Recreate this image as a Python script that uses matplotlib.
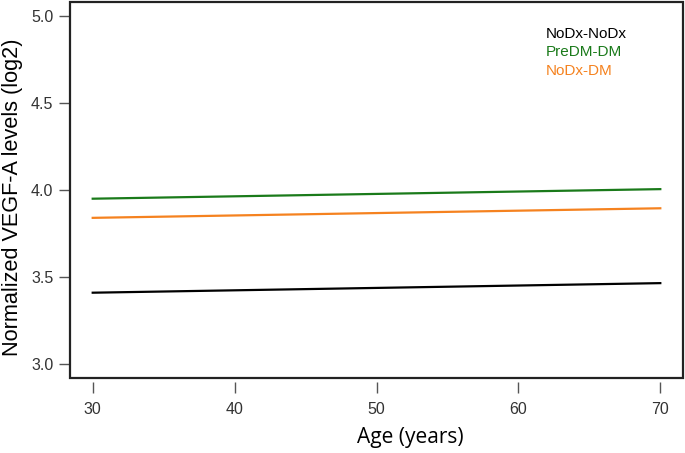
import matplotlib
matplotlib.use("Agg")
import matplotlib.pyplot as plt
from matplotlib.patches import Rectangle

ages = [30, 70]
nodx_nodx = [3.41, 3.465]
predm_dm = [3.95, 4.005]
nodx_dm = [3.84, 3.895]
series_names = ["NoDx-NoDx", "PreDM-DM", "NoDx-DM"]
series_colors = ["#000000", "#1a7a1a", "#f5821f"]
x_ticks = [30, 40, 50, 60, 70]
y_ticks = [3.0, 3.5, 4.0, 4.5, 5.0]

fig = plt.figure(figsize=(6.85, 4.53), dpi=100)
ax = fig.add_axes([70/685, 1 - 378/453, 613/685, 376/453])
ax.set_xlim(28.4, 71.6)
ax.set_ylim(2.92, 5.08)

for vals, c in zip([nodx_nodx, predm_dm, nodx_dm], series_colors):
    ax.plot(ages, vals, color=c, lw=1.6)

for i, (name, c) in enumerate(zip(series_names, series_colors)):
    ax.text(61.9, 4.897 - i*0.106, name, color=c, fontsize=11, va="center",
            family="Liberation Sans")

for s in ax.spines.values():
    s.set_visible(False)
ax.add_patch(Rectangle((0, 0), 1, 1, transform=ax.transAxes, fill=False,
                       lw=1.6, ec="#222222", clip_on=False, zorder=5))
ax.spines["bottom"].set_visible(True)
ax.spines["bottom"].set_color("none")
ax.spines["bottom"].set_position(("outward", 3))

ax.set_xticks(x_ticks)
ax.set_xticklabels([str(t) for t in x_ticks])
ax.set_yticks(y_ticks)
ax.set_yticklabels([f"{t:.1f}" for t in y_ticks])
ax.tick_params(axis="both", direction="out", length=8, width=1, color="#555555",
               labelcolor="#333333", labelsize=11.5)
ax.tick_params(axis="x", pad=6)
ax.tick_params(axis="y", pad=4)
for lab in ax.get_xticklabels() + ax.get_yticklabels():
    lab.set_family("Liberation Sans")

ax.set_xlabel("Age (years)", fontsize=15, family="Open Sans")
ax.xaxis.set_label_coords((410 - 70) / 613, -(437 - 378) / 376)
ax.xaxis.label.set_va("center")
ax.set_ylabel("Normalized VEGF-A levels (log2)", fontsize=15.6, family="Liberation Sans")
ax.yaxis.set_label_coords(-(70 - 13) / 613, (378 - 197) / 376)
ax.yaxis.label.set_va("center")

fig.savefig("out.png", dpi=100)
